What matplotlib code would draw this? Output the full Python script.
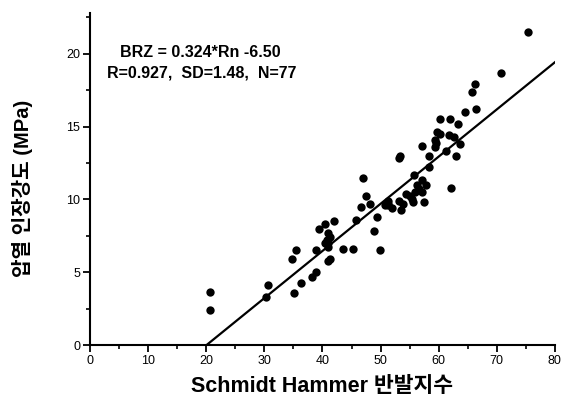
import matplotlib
matplotlib.use("Agg")
import matplotlib.pyplot as plt
import numpy as np

plt.rcParams['font.family'] = ['Liberation Sans', 'Noto Sans CJK KR', 'DejaVu Sans']

rebound = [75.3, 70.8, 66.3, 65.8, 66.4, 64.5, 60.3, 61.9, 63.3, 59.7,
           60.3, 61.8, 62.7, 59.4, 59.3, 63.6, 57.2, 61.3, 63.0, 58.4,
           53.2, 53.3, 58.3, 55.8, 46.9, 62.2, 56.3, 57.2, 57.8, 56.0,
           54.4, 47.5, 57.2, 57.4, 55.5, 53.1, 51.3, 46.6, 48.2, 52.0,
           53.8, 53.5, 51.3, 49.4, 45.7, 41.9, 40.4, 39.4, 48.8, 41.0,
           41.3, 40.4, 41.0, 43.5, 45.2, 49.9, 38.8, 35.4, 34.8, 41.3,
           40.9, 38.8, 38.2, 36.3, 30.6, 30.2, 35.1, 20.7, 20.7, 40.7,
           55.0, 56.6, 51.3, 59.5, 55.4, 50.8, 41.0]
brz = [21.5, 18.7, 17.9, 17.4, 16.2, 16.0, 15.5, 15.5, 15.2, 14.6,
       14.5, 14.4, 14.3, 14.1, 13.6, 13.8, 13.7, 13.3, 13.0, 12.96,
       12.85, 13.0, 12.2, 11.7, 11.5, 10.8, 11.0, 11.3, 11.0, 10.5,
       10.4, 10.2, 10.5, 9.8, 9.8, 9.9, 9.9, 9.5, 9.7, 9.4,
       9.7, 9.3, 9.6, 8.8, 8.6, 8.5, 8.3, 8.0, 7.8, 7.7,
       7.4, 7.0, 6.7, 6.6, 6.6, 6.5, 6.5, 6.5, 5.9, 5.9,
       5.76, 5.0, 4.64, 4.23, 4.1, 3.27, 3.6, 3.66, 2.4, 7.2,
       10.2, 10.7, 9.7, 13.9, 10.0, 9.6, 7.0]

slope = 0.324
intercept = -6.50
fit_x_end = 80

x_ticks = [0, 10, 20, 30, 40, 50, 60, 70, 80]
y_ticks = [0, 5, 10, 15, 20]

fig = plt.figure(figsize=(5.68, 4.0), dpi=100)
ax = fig.add_axes([0.1585, 0.1375, 0.977 - 0.1585, 0.9675 - 0.1375])

ax.scatter(rebound, brz, s=36, color='black', zorder=3, linewidths=0)
x0 = -intercept / slope
fx = np.array([x0, fit_x_end])
ax.plot(fx, slope * fx + intercept, color='black', lw=1.6, zorder=2)

ax.set_xlim(0, 80)
ax.set_ylim(0, 22.8)
ax.set_xticks(x_ticks)
ax.set_yticks(y_ticks)
ax.set_xticks(np.arange(5, 80, 10), minor=True)
ax.set_yticks(np.arange(2.5, 22.6, 5), minor=True)
ax.tick_params(which='major', direction='out', length=5, width=1.3, labelsize=9, pad=2)
ax.tick_params(which='minor', direction='out', length=3, width=1.2)

for s in ['top', 'right']:
    ax.spines[s].set_visible(False)
for s in ['left', 'bottom']:
    ax.spines[s].set_linewidth(1.5)

ax.set_xlabel('Schmidt Hammer 반발지수', fontsize=15.5, fontweight='bold', labelpad=7)
ax.set_ylabel('압열 인장강도 (MPa)', fontsize=14.5, fontweight='bold')
ax.yaxis.set_label_coords(-0.123, 0.473)

ax.text(19.0, 20.1, 'BRZ = 0.324*Rn -6.50', ha='center', va='center',
        fontsize=11.5, fontweight='bold')
ax.text(19.2, 18.7, 'R=0.927,  SD=1.48,  N=77', ha='center', va='center',
        fontsize=11.5, fontweight='bold')

fig.savefig('out.png', dpi=100)
